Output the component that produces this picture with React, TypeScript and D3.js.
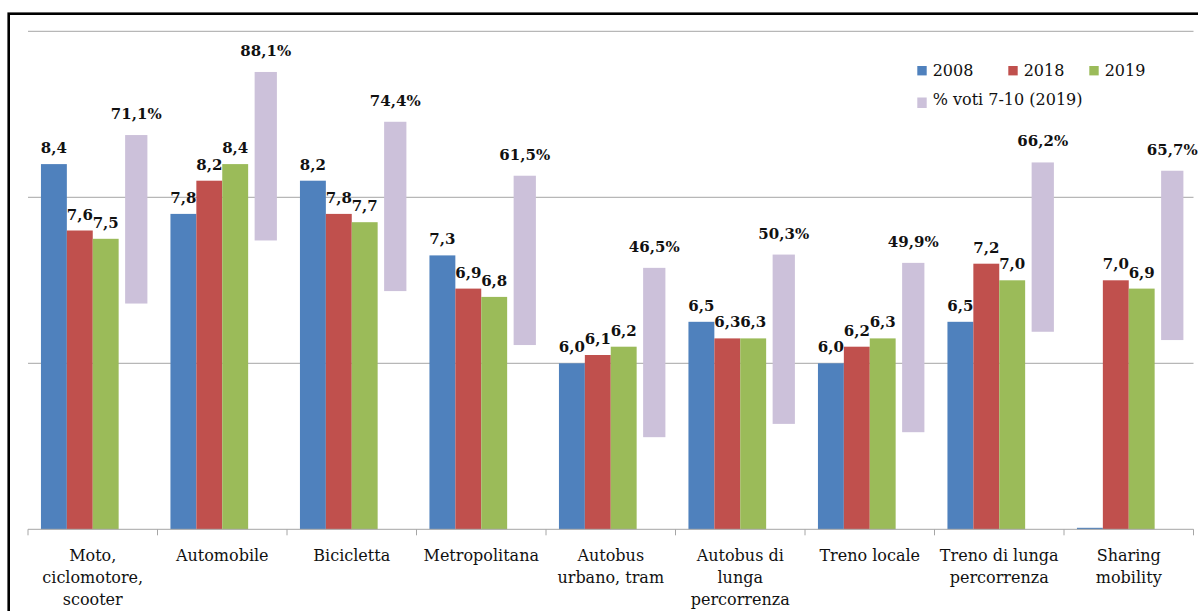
import React from "react";
import * as d3 from "d3";

const categories: string[][] = [
  ["Moto,", "ciclomotore,", "scooter"],
  ["Automobile"],
  ["Bicicletta"],
  ["Metropolitana"],
  ["Autobus", "urbano, tram"],
  ["Autobus di", "lunga", "percorrenza"],
  ["Treno locale"],
  ["Treno di lunga", "percorrenza"],
  ["Sharing", "mobility"],
];
const series = ["2008", "2018", "2019"];
const v2008: (number | null)[] = [8.4, 7.8, 8.2, 7.3, 6.0, 6.5, 6.0, 6.5, 0];
const v2018: number[] = [7.6, 8.2, 7.8, 6.9, 6.1, 6.3, 6.2, 7.2, 7.0];
const v2019: number[] = [7.5, 8.4, 7.7, 6.8, 6.2, 6.3, 6.3, 7.0, 6.9];
const pctVotes: number[] = [71.1, 88.1, 74.4, 61.5, 46.5, 50.3, 49.9, 66.2, 65.7];
// floating range of the "% voti 7-10" marks, read on the main axis
const pctTop: number[] = [8.75, 9.51, 8.91, 8.26, 7.15, 7.31, 7.21, 8.42, 8.32];
const pctBottom: number[] = [6.72, 7.48, 6.87, 6.22, 5.11, 5.27, 5.17, 6.38, 6.28];
const yTicks = [4, 6, 8, 10];
const colors = ["#4F81BD", "#C0504D", "#9BBB59"];
const pctColor = "#CCC1DA";
const legendLabels = ["2008", "2018", "2019", "% voti 7-10 (2019)"];

const fmt = (v: number) => v.toFixed(1).replace(".", ",");

export default function App() {
  const W = 1198, H = 611;
  const left = 28, right = 1193.5, top = 31.3, bottom = 529.3;
  const keys = categories.map((_, i) => String(i));
  const x = d3.scaleBand<string>().domain(keys).range([left, right]).padding(0);
  const bw = x.bandwidth();
  const xs = d3.scaleBand<string>().domain(series).range([0.1 * bw, 0.7 * bw]).padding(0);
  const y = d3.scaleLinear().domain([4, 10]).range([bottom, top]);
  const data = [v2008, v2018, v2019];
  const serif = "'DejaVu Serif', serif";

  return (
    <svg width={W} height={H} style={{ position: "absolute", left: 0, top: 0, background: "#fff" }}>
      <rect x={0} y={0} width={W} height={H} fill="#fff" />
      {/* frame */}
      <rect x={8.7} y={13.7} width={W + 20} height={H + 20} fill="none" stroke="#000" strokeWidth={2.6} />
      {/* gridlines */}
      {yTicks.filter((t) => t > 4).map((t) => (
        <line key={t} x1={left} x2={right} y1={y(t)} y2={y(t)} stroke="#a6a6a6" strokeWidth={1} />
      ))}
      {/* purple floating bars */}
      {pctVotes.map((p, i) => {
        const x0 = (x(keys[i]) as number) + 0.75 * bw;
        const w = 0.172 * bw;
        return (
          <g key={"p" + i}>
            <rect x={x0} y={y(pctTop[i])} width={w} height={y(pctBottom[i]) - y(pctTop[i])} fill={pctColor} />
            <text x={x0 + w / 2} y={y(pctTop[i]) - 16} textAnchor="middle" fontFamily={serif} fontWeight="bold" fontSize={15} fill="#111">
              {fmt(p) + "%"}
            </text>
          </g>
        );
      })}
      {/* bars */}
      {data.map((arr, s) =>
        arr.map((v, i) => {
          if (v === null) return null;
          const bx = (x(keys[i]) as number) + (xs(series[s]) as number);
          const w = xs.bandwidth();
          const vy = y(Math.max(v, 4));
          const h = Math.max(bottom - vy, 1.5);
          return (
            <g key={s + "-" + i}>
              <rect x={bx} y={bottom - h} width={w} height={h} fill={colors[s]} />
              {v >= 4 && (
                <text x={bx + w / 2} y={vy - 11} textAnchor="middle" fontFamily={serif} fontWeight="bold" fontSize={15} fill="#111">
                  {fmt(v)}
                </text>
              )}
            </g>
          );
        })
      )}
      {/* axis */}
      <line x1={left} x2={right} y1={bottom} y2={bottom} stroke="#a6a6a6" strokeWidth={1} />
      {d3.range(keys.length + 1).map((k) => {
        const tx = left + k * bw;
        return <line key={"t" + k} x1={tx} x2={tx} y1={bottom} y2={bottom + 6} stroke="#a6a6a6" strokeWidth={1} />;
      })}
      {categories.map((lines, i) => (
        <text key={"c" + i} x={(x(keys[i]) as number) + bw / 2} y={561} textAnchor="middle" fontFamily={serif} fontSize={16} fill="#111">
          {lines.map((l, j) => (
            <tspan key={j} x={(x(keys[i]) as number) + bw / 2} dy={j === 0 ? 0 : 22}>
              {l}
            </tspan>
          ))}
        </text>
      ))}
      {/* legend */}
      {[0, 1, 2].map((s) => {
        const lx = [917.3, 1008.3, 1089.3][s];
        return (
          <g key={"l" + s}>
            <rect x={lx} y={66} width={9.4} height={9.4} fill={colors[s]} />
            <text x={lx + 15.4} y={76} fontFamily={serif} fontSize={16} fill="#111">{legendLabels[s]}</text>
          </g>
        );
      })}
      <rect x={917.3} y={97.5} width={9.4} height={10.5} fill={pctColor} />
      <text x={932.7} y={105} fontFamily={serif} fontSize={16} fill="#111">{legendLabels[3]}</text>
    </svg>
  );
}
